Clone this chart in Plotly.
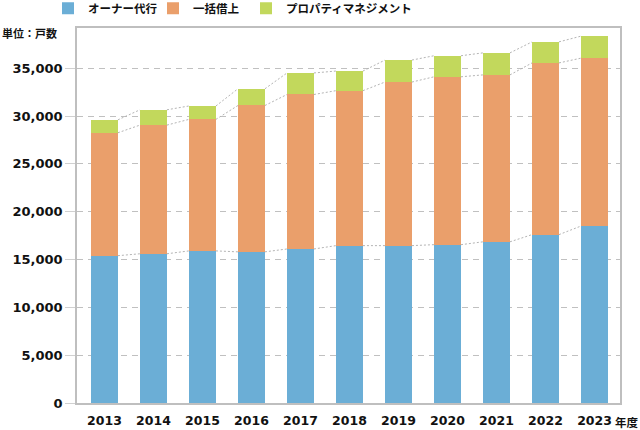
import plotly.graph_objects as go

years = ["2013", "2014", "2015", "2016", "2017", "2018", "2019", "2020", "2021", "2022", "2023"]
owner_agency = [15400, 15600, 15900, 15800, 16100, 16450, 16450, 16550, 16850, 17600, 18500]
master_lease = [12850, 13450, 13750, 15300, 16150, 16200, 17100, 17550, 17450, 17950, 17550]
property_mgmt = [1350, 1600, 1400, 1750, 2250, 2050, 2300, 2200, 2300, 2200, 2300]
series_names = ["オーナー代行", "一括借上", "プロパティマネジメント"]
colors = ["#6BAED6", "#EA9F6B", "#C2D85C"]
y_ticks = [0, 5000, 10000, 15000, 20000, 25000, 30000, 35000]

BAR_W = 0.55
xs = list(range(len(years)))

fig = go.Figure()

# series connector lines (computed from the cumulative data)
cum1 = owner_agency
cum2 = [a + b for a, b in zip(owner_agency, master_lease)]
cum3 = [a + b for a, b in zip(cum2, property_mgmt)]
for cum in (cum1, cum2, cum3):
    lx, ly = [], []
    for i in range(len(xs) - 1):
        lx += [xs[i] + BAR_W / 2, xs[i + 1] - BAR_W / 2, None]
        ly += [cum[i], cum[i + 1], None]
    fig.add_trace(go.Scatter(x=lx, y=ly, mode="lines", showlegend=False, hoverinfo="skip",
                             line=dict(color="#B4B4B4", width=1, dash="2px,2px")))

legend_ids = ["legend", "legend2", "legend3"]
for name, vals, c, lg in zip(series_names, [owner_agency, master_lease, property_mgmt], colors, legend_ids):
    fig.add_trace(go.Bar(x=xs, y=vals, name=name, marker=dict(color=c, line=dict(width=0)),
                         width=BAR_W, legend=lg))

legend_font = dict(family="Noto Sans CJK JP", size=11.5, weight="bold", color="#111")
legend_x = [48, 153, 246]
for lg, lx in zip(legend_ids, legend_x):
    fig.update_layout({lg: dict(orientation="h", x=lx / 640, xanchor="left", xref="container",
                                y=0.981, yanchor="middle", yref="container",
                                font=legend_font, itemwidth=30, bgcolor="rgba(0,0,0,0)")})

fig.update_layout(
    barmode="stack",
    width=640, height=430,
    margin=dict(l=77, r=20, t=28, b=27, autoexpand=False),
    paper_bgcolor="white", plot_bgcolor="white",
    font=dict(family="DejaVu Sans", size=13, color="#111"),
    showlegend=True,
)

fig.update_xaxes(range=[-0.56, 10.52], tickvals=xs, ticktext=years, showgrid=False,
                 showline=True, linecolor="#BFBFBF", linewidth=1.5, mirror=True,
                 ticks="", automargin=False, ticklabelstandoff=5,
                 tickfont=dict(family="DejaVu Sans", size=12.5, weight="bold", color="#111"),
                 zeroline=False)
fig.update_yaxes(range=[0, 39200], tickvals=y_ticks, tickformat=",d", showgrid=True,
                 gridcolor="#C0C0C0", griddash="6px,5px", gridwidth=1,
                 showline=True, linecolor="#BFBFBF", linewidth=1.5, mirror=True,
                 ticks="outside", ticklen=10, tickcolor="#D0D0D0", automargin=False,
                 tickfont=dict(family="DejaVu Sans", size=13, weight="bold", color="#111"),
                 zeroline=False)

fig.add_annotation(text="単位：戸数", xref="paper", yref="paper", x=-0.1418, y=0.987,
                   xanchor="left", yanchor="middle", showarrow=False,
                   font=dict(family="Noto Sans CJK JP", size=11, weight="bold", color="#111"))
fig.add_annotation(text="年度", xref="paper", yref="paper", x=0.987, y=-0.05,
                   xanchor="left", yanchor="middle", showarrow=False,
                   font=dict(family="Noto Sans CJK JP", size=11.5, weight="bold", color="#111"))

fig.write_html("out.html", config={"displayModeBar": False},
               post_script="document.body.style.margin='0';")
